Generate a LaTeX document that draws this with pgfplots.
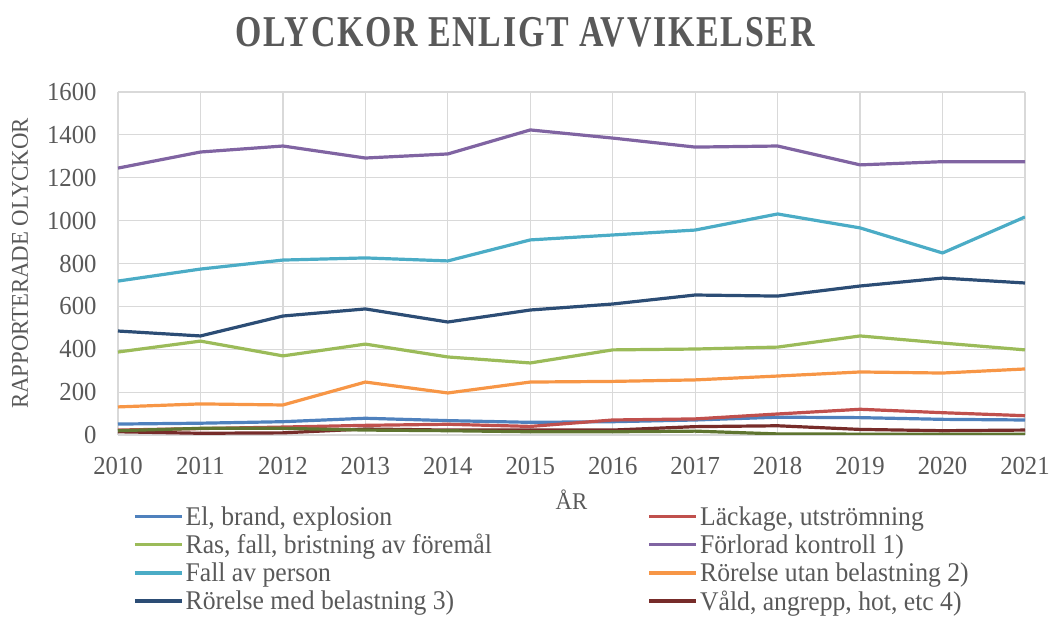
\documentclass[border=0pt]{standalone}
\usepackage{fontspec}
\setmainfont{Liberation Serif}[FakeStretch=0.95]
\newfontfamily\titlefont{Liberation Serif}[FakeStretch=0.77, LetterSpace=4]
\usepackage{pgfplots}
\pgfplotsset{compat=1.18}
\definecolor{cEl}{HTML}{4F81BD}
\definecolor{cLack}{HTML}{C0504D}
\definecolor{cRas}{HTML}{9BBB59}
\definecolor{cForl}{HTML}{8064A2}
\definecolor{cFall}{HTML}{4BACC6}
\definecolor{cRorU}{HTML}{F79646}
\definecolor{cRorM}{HTML}{2C4D75}
\definecolor{cVald}{HTML}{772C2A}
\definecolor{cOliv}{HTML}{5F7530}
\definecolor{txtgray}{HTML}{595959}
\definecolor{gridgray}{HTML}{D9D9D9}
\newcommand{\lw}[1]{\makebox[460pt][l]{#1}}
\begin{document}
\begin{tikzpicture}[x=1pt,y=1pt]
\useasboundingbox (0,0) rectangle (1050,617);
\node[font=\titlefont\fontsize{44}{48}\selectfont\bfseries, text=txtgray] at (525,585) {OLYCKOR ENLIGT AVVIKELSER};
\begin{axis}[
  at={(118pt,182pt)}, anchor=south west,
  scale only axis, width=907pt, height=343pt,
  xmin=2010, xmax=2021, ymin=0, ymax=1600,
  xtick={2010,2011,...,2021}, ytick={0,200,...,1600},
  grid=major, grid style={draw=gridgray, line width=1.2pt},
  axis line style={draw=none}, tick style={draw=none},
  /pgf/number format/assume math mode=true,
  x tick label style={/pgf/number format/1000 sep={}, yshift=-19pt},
  y tick label style={/pgf/number format/1000 sep={}, xshift=-18pt},
  ticklabel style={font=\fontsize{26}{28}\selectfont, text=txtgray},
  xlabel={ÅR}, ylabel={RAPPORTERADE OLYCKOR},
  label style={font=\fontsize{24}{26}\selectfont, text=txtgray},
  xlabel style={at={(axis description cs:0.5,0)}, anchor=center, yshift=-65pt},
  ylabel style={at={(axis description cs:0,0.5)}, anchor=center, yshift=98pt},
  legend columns=2,
  legend style={at={(0.0165,-0.202)}, anchor=north west, draw=none, fill=none,
    font=\fontsize{27}{29}\selectfont, text=txtgray, inner sep=0pt,
    row sep=3.5pt},
  legend cell align=left,
  legend image code/.code={\draw[#1, line width=3.5pt] (0pt,0pt) -- (47pt,0pt);},
  every axis plot/.append style={line width=3.2pt, line join=round, no markers},
]
\addplot[cEl] coordinates {(2010,51)(2011,55)(2012,62)(2013,78)(2014,67)(2015,59)(2016,62)(2017,70)(2018,83)(2019,81)(2020,73)(2021,70)};
\addlegendentry{\lw{El, brand, explosion}}
\addplot[cLack] coordinates {(2010,23)(2011,30)(2012,37)(2013,45)(2014,50)(2015,40)(2016,70)(2017,75)(2018,98)(2019,120)(2020,104)(2021,90)};
\addlegendentry{Läckage, utströmning}
\addplot[cRas] coordinates {(2010,387)(2011,438)(2012,369)(2013,424)(2014,364)(2015,336)(2016,397)(2017,401)(2018,410)(2019,462)(2020,429)(2021,397)};
\addlegendentry{\lw{Ras, fall, bristning av föremål}}
\addplot[cForl] coordinates {(2010,1245)(2011,1320)(2012,1348)(2013,1292)(2014,1311)(2015,1423)(2016,1385)(2017,1343)(2018,1348)(2019,1260)(2020,1275)(2021,1275)};
\addlegendentry{Förlorad kontroll 1)}
\addplot[cFall] coordinates {(2010,718)(2011,774)(2012,816)(2013,826)(2014,812)(2015,910)(2016,933)(2017,956)(2018,1031)(2019,966)(2020,849)(2021,1017)};
\addlegendentry{\lw{Fall av person}}
\addplot[cRorU] coordinates {(2010,131)(2011,145)(2012,140)(2013,247)(2014,196)(2015,247)(2016,250)(2017,257)(2018,275)(2019,294)(2020,289)(2021,308)};
\addlegendentry{Rörelse utan belastning 2)}
\addplot[cRorM] coordinates {(2010,485)(2011,462)(2012,555)(2013,588)(2014,527)(2015,583)(2016,611)(2017,653)(2018,648)(2019,695)(2020,732)(2021,709)};
\addlegendentry{\lw{Rörelse med belastning 3)}}
\addplot[cVald] coordinates {(2010,15)(2011,8)(2012,10)(2013,28)(2014,23)(2015,23)(2016,23)(2017,39)(2018,43)(2019,26)(2020,20)(2021,23)};
\addlegendentry{Våld, angrepp, hot, etc 4)}
\addplot[cOliv, forget plot] coordinates {(2010,20)(2011,31)(2012,31)(2013,23)(2014,20)(2015,15)(2016,15)(2017,18)(2018,5)(2019,4)(2020,4)(2021,4)};
\end{axis}
\end{tikzpicture}
\end{document}
